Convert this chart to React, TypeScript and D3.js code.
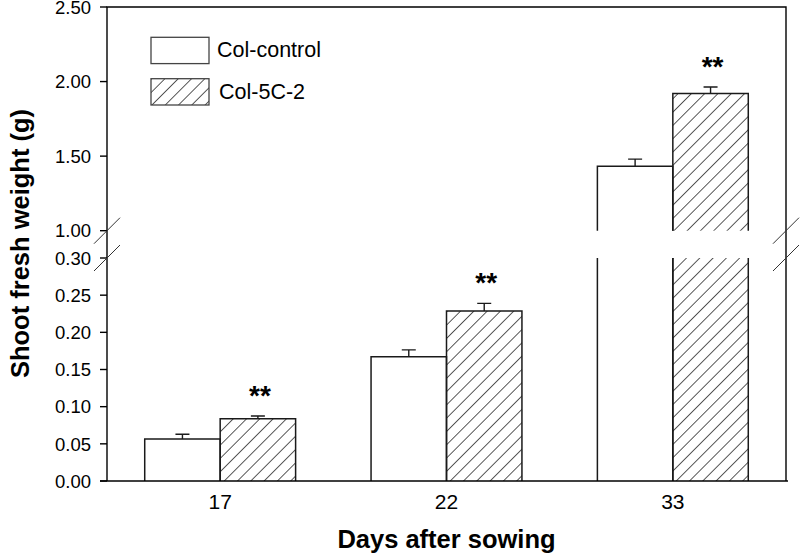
import React from "react";
import * as d3 from "d3";

const days = ["17", "22", "33"];
const seriesNames = ["Col-control", "Col-5C-2"];
const controlValues = [0.0565, 0.167, 1.433];
const controlErrors = [0.0063, 0.0094, 0.047];
const treatedValues = [0.0838, 0.2287, 1.92];
const treatedErrors = [0.0036, 0.0103, 0.044];
const significance = ["**", "**", "**"];
const lowerTicks = [0, 0.05, 0.1, 0.15, 0.2, 0.25, 0.3];
const upperTicks = [1.0, 1.5, 2.0, 2.5];
const lowerDomain = [0, 0.3];
const upperDomain = [1.0, 2.5];

const W = 800;
const H = 553;
const left = 107;
const right = 786;
const bottom = 481;
const top = 7;
const lowTop = 258;
const highBottom = 230.7;

export default function App() {
  const x = d3.scaleBand<string>().domain(days).range([left, right]).paddingInner(1 / 3).paddingOuter(1 / 6);
  const xs = d3.scaleBand<string>().domain(seriesNames).range([0, x.bandwidth()]);
  const yLow = d3.scaleLinear().domain(lowerDomain).range([bottom, lowTop]);
  const yHigh = d3.scaleLinear().domain(upperDomain).range([highBottom, top]);
  const y = (v: number) => (v <= lowerDomain[1] ? yLow(v) : yHigh(v));
  const font = "'Liberation Sans', Arial, sans-serif";
  const stroke = "#1a1a1a";
  const bw = xs.bandwidth();

  const series = [
    { name: seriesNames[0], values: controlValues, errors: controlErrors, fill: "#fff" },
    { name: seriesNames[1], values: treatedValues, errors: treatedErrors, fill: "url(#hatch)" },
  ];

  const bars: React.ReactNode[] = [];
  series.forEach((s, si) => {
    days.forEach((d, i) => {
      const v = s.values[i];
      const x0 = (x(d) as number) + (xs(s.name) as number);
      const x1 = x0 + bw;
      const key = `${si}-${i}`;
      if (v <= lowerDomain[1]) {
        const yt = yLow(v);
        bars.push(
          <g key={key}>
            <rect x={x0} y={yt} width={bw} height={bottom - yt} fill={s.fill} />
            <path d={`M${x0},${bottom}V${yt}H${x1}V${bottom}`} fill="none" stroke={stroke} strokeWidth={1.5} />
          </g>
        );
      } else {
        const yt = yHigh(v);
        bars.push(
          <g key={key}>
            <rect x={x0} y={lowTop} width={bw} height={bottom - lowTop} fill={s.fill} />
            <rect x={x0} y={yt} width={bw} height={highBottom - yt} fill={s.fill} />
            <path d={`M${x0},${bottom}V${lowTop}M${x1},${lowTop}V${bottom}`} fill="none" stroke={stroke} strokeWidth={1.5} />
            <path d={`M${x0},${highBottom}V${yt}H${x1}V${highBottom}`} fill="none" stroke={stroke} strokeWidth={1.5} />
          </g>
        );
      }
      const cx = x0 + bw / 2;
      const ye = y(v + s.errors[i]);
      bars.push(
        <path key={key + "e"} d={`M${cx},${y(v)}V${ye}M${cx - 7},${ye}H${cx + 7}`} fill="none" stroke={stroke} strokeWidth={1.4} />
      );
      if (si === 1) {
        bars.push(
          <text key={key + "s"} x={cx + 2} y={ye - 11} textAnchor="middle" fontFamily={font} fontWeight="bold" fontSize={28} fill="#000">
            {significance[i]}
          </text>
        );
      }
    });
  });

  const yTicks = [
    ...lowerTicks.map((t) => ({ t, py: yLow(t) })),
    ...upperTicks.map((t) => ({ t, py: yHigh(t) })),
  ];

  const breakMark = (cx: number, cy: number, k: string) => (
    <line key={k} x1={cx - 13} y1={cy + 13} x2={cx + 13} y2={cy - 13} stroke="#333" strokeWidth={1} />
  );

  return (
    <svg width={W} height={H} style={{ position: "absolute", left: 0, top: 0, background: "#fff" }}>
      <defs>
        <pattern id="hatch" patternUnits="userSpaceOnUse" width={9.4} height={10} patternTransform="rotate(45)">
          <line x1={0} y1={-1} x2={0} y2={11} stroke="#000" strokeWidth={1.3} />
        </pattern>
      </defs>
      <rect x={0} y={0} width={W} height={H} fill="#fff" />
      {bars}
      <path d={`M${left},${bottom}V${top}H${right}V${bottom}`} fill="none" stroke="#000" strokeWidth={1.4} />
      <line x1={left - 7} x2={right + 2} y1={bottom} y2={bottom} stroke="#000" strokeWidth={1.4} />
      {yTicks.map(({ t, py }) => (
        <g key={t}>
          <line x1={left - 7} x2={left} y1={py} y2={py} stroke="#000" strokeWidth={1.4} />
          <text x={91} y={py + 6.7} textAnchor="end" fontFamily={font} fontSize={18.5} fill="#000">
            {t.toFixed(2)}
          </text>
        </g>
      ))}
      {breakMark(left, highBottom, "b1")}
      {breakMark(left, lowTop, "b2")}
      {breakMark(right, highBottom, "b3")}
      {breakMark(right, lowTop, "b4")}
      {days.map((d) => (
        <text key={d} x={(x(d) as number) + x.bandwidth() / 2} y={509} textAnchor="middle" fontFamily={font} fontSize={21} fill="#000">
          {d}
        </text>
      ))}
      <text x={(left + right) / 2} y={547.5} textAnchor="middle" fontFamily={font} fontWeight="bold" fontSize={25.5} fill="#000">
        Days after sowing
      </text>
      <text transform={`translate(28.5,243.5) rotate(-90)`} textAnchor="middle" fontFamily={font} fontWeight="bold" fontSize={25.5} fill="#000">
        Shoot fresh weight (g)
      </text>
      {series.map((s, i) => (
        <g key={s.name} transform={`translate(151,${37.3 + i * 41.4})`}>
          <rect x={0} y={0} width={58} height={26.3} fill={s.fill} stroke="#444" strokeWidth={1.3} />
          <text x={66 + i * 2} y={20} fontFamily={font} fontSize={21.5} fill="#000">
            {s.name}
          </text>
        </g>
      ))}
    </svg>
  );
}
